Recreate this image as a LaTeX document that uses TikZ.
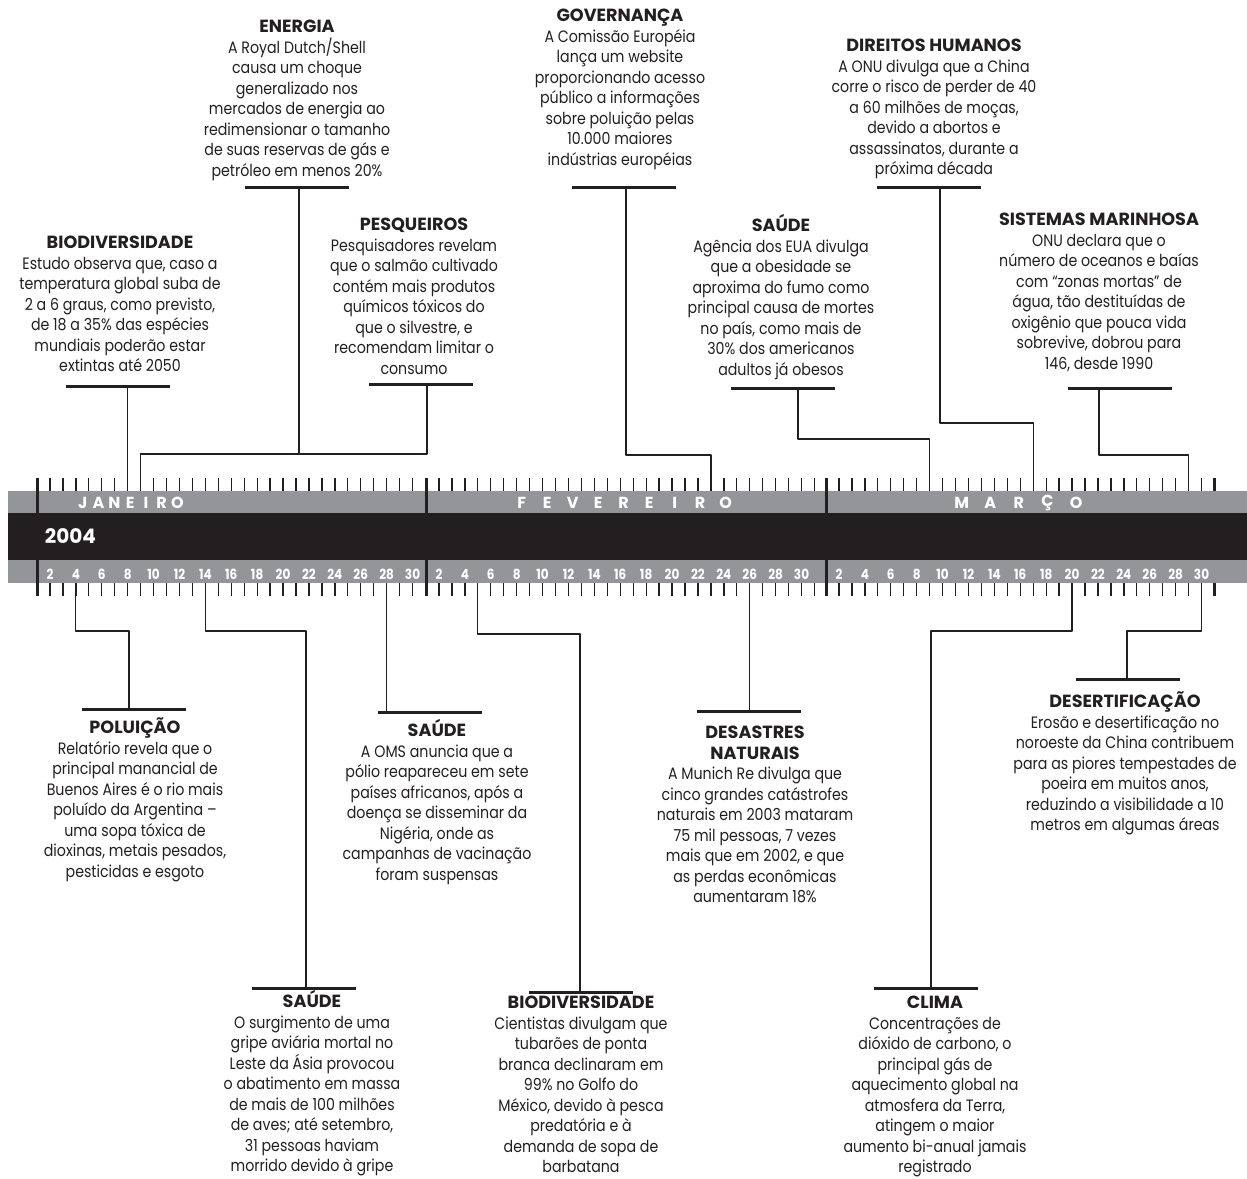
\documentclass[tikz,border=0pt]{standalone}
\usepackage{fontspec}
\setmainfont{Poppins}[FakeStretch=0.86]
\newfontfamily\headfont{Poppins}
\definecolor{tinta}{RGB}{35,31,32}
\definecolor{cinza}{RGB}{147,149,152}
\newcommand\tit[1]{{\headfont\bfseries\fontsize{8.8}{10.25}\selectfont\vphantom{Ú}#1}}

\begin{document}
\begin{tikzpicture}[x=0.5pt,y=-0.5pt,line join=round,
	txt/.style={align=center,inner sep=0pt,anchor=north,yshift=0.8pt,text=tinta,font=\fontsize{8.25}{10.25}\selectfont},
	barra/.style={fill=tinta,inner sep=0pt,minimum width=52pt,minimum height=1.5pt},
	conn/.style={draw=tinta,line width=0.6pt},
	tick/.style={draw=tinta,line width=0.65pt},
	divisa/.style={draw=tinta,line width=1.5pt},
	mes/.style={text=white,inner sep=0pt,font=\headfont\bfseries\fontsize{8}{8}\selectfont},
	dia/.style={text=white,inner sep=0pt,font=\bfseries\fontsize{7}{7}\selectfont},
	ano/.style={text=white,inner sep=0pt,font=\headfont\bfseries\fontsize{10}{10}\selectfont}]
	\def\xjan{37} \def\xfev{426} \def\xmar{826} \def\dx{12.95} \def\bt{491} \def\bb{583}
	\useasboundingbox (0,0) rectangle (1247,1178);
	% regua
	\foreach \m/\n in {\xjan/29,\xfev/30,\xmar/29}
	{\foreach \k in {0,...,\n}
		{\draw[tick] ({\m+\k*\dx},478) -- ++(0,13);
		\draw[tick] ({\m+\k*\dx},\bb) -- ++(0,13);}}
	\fill[cinza] (8,\bt) rectangle (1247,\bb);
	\foreach \m in {\xjan,\xfev,\xmar} \draw[divisa] (\m,478) -- (\m,596);
	\draw[divisa] (1214,478) -- (1214,\bt) (1214,\bb) -- (1214,596);
	\fill[tinta] (8,513) rectangle (1247,560);
	\node[ano] (ano) at (70.5,536) {2004};
	\foreach \l [count=\i from 0] in {J,A,N,E,I,R,O}
		\node[mes] (jan-\i) at ({82.7+\i*15.8},502.7) {\l};
	\foreach \l [count=\i from 0] in {F,E,V,E,R,E,I,R,O}
		\node[mes] (fev-\i) at ({521.7+\i*25.5},502.7) {\l};
	\foreach \l [count=\i from 0] in {M,A,R,Ç,O}
		\node[mes] (mar-\i) at ({961.7+\i*28.6},502.7) {\l};
	\foreach \m/\nm in {\xjan/j,\xfev/f,\xmar/m}
		\foreach \d in {2,4,...,30}
			\node[dia] (\nm-\d) at ({\m+(\d-1)*\dx},574) {\d};
	% dias marcados
	\coordinate (jan8) at ({\xjan+7*\dx},\bt);
	\coordinate (jan9) at ({\xjan+8*\dx},\bt);
	\coordinate (fev23) at ({\xfev+22*\dx},\bt);
	\coordinate (mar9) at ({\xmar+8*\dx},\bt);
	\coordinate (mar17) at ({\xmar+16*\dx},\bt);
	\coordinate (mar29) at ({\xmar+28*\dx},\bt);
	\coordinate (jan4) at ({\xjan+3*\dx},\bb);
	\coordinate (jan14) at ({\xjan+13*\dx},\bb);
	\coordinate (jan28) at ({\xjan+27*\dx},\bb);
	\coordinate (fev5) at ({\xfev+4*\dx},\bb);
	\coordinate (fev26) at ({\xfev+25*\dx},\bb);
	\coordinate (mar20) at ({\xmar+19*\dx},\bb);
	\coordinate (mar30) at ({\xmar+29*\dx},\bb);
	% textos de cima
	\node[txt] (bioA) at (120,233) {\tit{BIODIVERSIDADE}\\ Estudo observa que, caso a\\ temperatura global suba de\\ 2 a 6 graus, como previsto,\\ de 18 a 35\% das espécies\\ mundiais poderão estar\\ extintas até 2050};
	\node[txt] (energia) at (297,17) {\tit{ENERGIA}\\ A Royal Dutch/Shell\\ causa um choque\\ generalizado nos\\ mercados de energia ao\\ redimensionar o tamanho\\ de suas reservas de gás e\\ petróleo em menos 20\%};
	\node[txt] (pesq) at (414,215) {\tit{PESQUEIROS}\\ Pesquisadores revelam\\ que o salmão cultivado\\ contém mais produtos\\ químicos tóxicos do\\ que o silvestre, e\\ recomendam limitar o\\ consumo};
	\node[txt] (gov) at (620,6) {\tit{GOVERNANÇA}\\ A Comissão Européia\\ lança um website\\ proporcionando acesso\\ público a informações\\ sobre poluição pelas\\ 10.000 maiores\\ indústrias européias};
	\node[txt] (dir) at (934,36) {\tit{DIREITOS HUMANOS}\\ A ONU divulga que a China\\ corre o risco de perder de 40\\ a 60 milhões de moças,\\ devido a abortos e\\ assassinatos, durante a\\ próxima década};
	\node[txt] (saudeA) at (781,216) {\tit{SAÚDE}\\ Agência dos EUA divulga\\ que a obesidade se\\ aproxima do fumo como\\ principal causa de mortes\\ no país, como mais de\\ 30\% dos americanos\\ adultos já obesos};
	\node[txt] (sist) at (1099,210) {\tit{SISTEMAS MARINHOSA}\\ ONU declara que o\\ número de oceanos e baías\\ com “zonas mortas” de\\ água, tão destituídas de\\ oxigênio que pouca vida\\ sobrevive, dobrou para\\ 146, desde 1990};
	% textos de baixo
	\node[txt] (polu) at (135,718) {\tit{POLUIÇÃO}\\ Relatório revela que o\\ principal manancial de\\ Buenos Aires é o rio mais\\ poluído da Argentina –\\ uma sopa tóxica de\\ dioxinas, metais pesados,\\ pesticidas e esgoto};
	\node[txt] (saudeB) at (437,721) {\tit{SAÚDE}\\ A OMS anuncia que a\\ pólio reapareceu em sete\\ países africanos, após a\\ doença se disseminar da\\ Nigéria, onde as\\ campanhas de vacinação\\ foram suspensas};
	\node[txt] (saudeC) at (312,992) {\tit{SAÚDE}\\ O surgimento de uma\\ gripe aviária mortal no\\ Leste da Ásia provocou\\ o abatimento em massa\\ de mais de 100 milhões\\ de aves; até setembro,\\ 31 pessoas haviam\\ morrido devido à gripe};
	\node[txt] (bioB) at (581,993) {\tit{BIODIVERSIDADE}\\ Cientistas divulgam que\\ tubarões de ponta\\ branca declinaram em\\ 99\% no Golfo do\\ México, devido à pesca\\ predatória e à\\ demanda de sopa de\\ barbatana};
	\node[txt] (desast) at (755,723) {\tit{DESASTRES}\\ \tit{NATURAIS}\\ A Munich Re divulga que\\ cinco grandes catástrofes\\ naturais em 2003 mataram\\ 75 mil pessoas, 7 vezes\\ mais que em 2002, e que\\ as perdas econômicas\\ aumentaram 18\%};
	\node[txt] (clima) at (935,993) {\tit{CLIMA}\\ Concentrações de\\ dióxido de carbono, o\\ principal gás de\\ aquecimento global na\\ atmosfera da Terra,\\ atingem o maior\\ aumento bi-anual jamais\\ registrado};
	\node[txt] (desert) at (1125,692) {\tit{DESERTIFICAÇÃO}\\ Erosão e desertificação no\\ noroeste da China contribuem\\ para as piores tempestades de\\ poeira em muitos anos,\\ reduzindo a visibilidade a 10\\ metros em algumas áreas};
	% barras
	\node[barra] (bioAbar) at (118,386) {};
	\node[barra] (enbar) at (296.5,187) {};
	\node[barra] (pqbar) at (420.5,384) {};
	\node[barra] (gvbar) at (623.5,187) {};
	\node[barra] (drbar) at (928.5,187) {};
	\node[barra] (sabar) at (783,388) {};
	\node[barra] (smbar) at (1120,388) {};
	\node[barra] (pobar) at (134,709) {};
	\node[barra] (sbbar) at (429.5,712) {};
	\node[barra] (scbar) at (303.5,988) {};
	\node[barra] (bbbar) at (580.5,992) {};
	\node[barra] (dsbar) at (749,711) {};
	\node[barra] (clbar) at (925.5,988) {};
	\node[barra] (debar) at (1128,679) {};
	% ligacoes
	\coordinate (enK) at (299,454);
	\coordinate (pqK) at (427,454);
	\coordinate (gvK) at (626,455);
	\coordinate (drK) at (940,423);
	\coordinate (saK) at (798,439);
	\coordinate (smK) at (1099,455);
	\coordinate (poK) at (129,631);
	\coordinate (scK) at (306,631);
	\coordinate (bbK) at (580,634);
	\coordinate (clK) at (931,631);
	\coordinate (deK) at (1127,631);
	\draw[conn] (bioAbar -| jan8) -- (jan8);
	\draw[conn] (enbar -| enK) -- (enK) -| (jan9);
	\draw[conn] (pqbar -| pqK) -- (pqK) -| (jan9);
	\draw[conn] (gvbar -| gvK) -- (gvK) -| (fev23);
	\draw[conn] (drbar -| drK) -- (drK) -| (mar17);
	\draw[conn] (sabar -| saK) -- (saK) -| (mar9);
	\draw[conn] (smbar -| smK) -- (smK) -| (mar29);
	\draw[conn] (jan4) |- (poK) -- (pobar -| poK);
	\draw[conn] (jan28) -- (sbbar -| jan28);
	\draw[conn] (jan14) |- (scK) -- (scbar -| scK);
	\draw[conn] (fev5) |- (bbK) -- (bbbar -| bbK);
	\draw[conn] (fev26) -- (dsbar -| fev26);
	\draw[conn] (mar20) |- (clK) -- (clbar -| clK);
	\draw[conn] (mar30) |- (deK) -- (debar -| deK);
\end{tikzpicture}
\end{document}
